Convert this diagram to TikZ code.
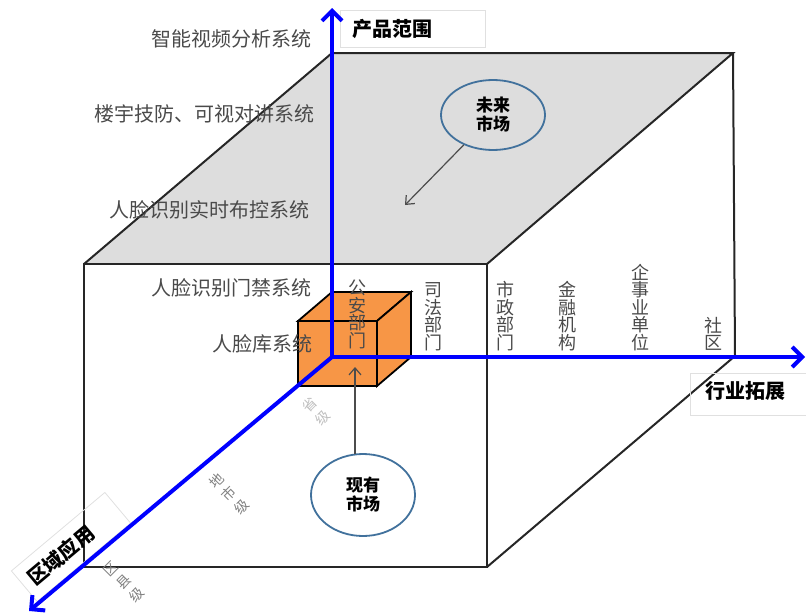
\documentclass[tikz,border=0pt]{standalone}
\usepackage{fontspec}
\setmainfont{Noto Sans CJK SC}
\usetikzlibrary{arrows.meta,shapes.geometric}
\definecolor{topgray}{HTML}{DDDDDD}
\definecolor{cubeorange}{HTML}{F79646}
\definecolor{ellblue}{HTML}{41719C}
\definecolor{txtgray}{HTML}{4A4A4A}
\definecolor{axisblue}{HTML}{0000FF}
\begin{document}
\begin{tikzpicture}[x=1pt,y=-1pt,
  cubeedge/.style={draw=black!85, line width=2pt, line join=miter},
  smallcube/.style={fill=cubeorange, draw=black, line width=1.8pt, line join=miter},
  axisline/.style={draw=axisblue, line width=4pt, -{Straight Barb[length=10pt,width=20pt]}},
  ptr/.style={draw=black!70, line width=1.2pt, -{Straight Barb[length=7pt,width=12pt]}},
  mkt/.style={ellipse, draw=ellblue, line width=1.8pt, minimum width=104pt, inner sep=0,
    align=center, font=\bfseries\fontsize{17}{19}\selectfont},
  vlab/.style={anchor=south, align=center, inner sep=0, text=txtgray,
    font=\fontsize{18}{17.5}\selectfont},
  hlab/.style={anchor=east, inner sep=0, text=txtgray, font=\fontsize{20}{22}\selectfont},
  rlab/.style={rotate=45, align=center, inner sep=0, font=\fontsize{14}{18}\selectfont},
  axtitle/.style={font=\bfseries\fontsize{20}{22}\selectfont, text=black},
  tbox/.style={draw=black!12, line width=0.8pt}
]
\useasboundingbox (0,0) rectangle (806,613);

% big cube corners
\coordinate (A) at (84,264);
\coordinate (B) at (487,264);
\coordinate (C) at (487,567);
\coordinate (D) at (84,567);
\coordinate (E) at (332,53);
\coordinate (F) at (733,53);
\coordinate (G) at (735,356);

\fill[topgray] (A) -- (E) -- (F) -- (B) -- cycle;
\draw[cubeedge] (A) -- (B) -- (C) -- (D) -- cycle;
\draw[cubeedge] (A) -- (E) -- (F) -- (B);
\draw[cubeedge] (F) -- (G) -- (C);

% small cube
\coordinate (O) at (332,357);
\coordinate (sA) at (298,321);
\coordinate (sB) at (377,321);
\coordinate (sC) at (377,386);
\coordinate (sD) at (298,386);
\coordinate (sE) at (332,292);
\coordinate (sF) at (411,292);
\coordinate (sG) at (411,357);
\draw[smallcube] (sA) -- (sE) -- (sF) -- (sB) -- cycle;
\draw[smallcube] (sB) -- (sF) -- (sG) -- (sC) -- cycle;
\draw[smallcube] (sA) -- (sB) -- (sC) -- (sD) -- cycle;

% title boxes
\draw[tbox] (340,10) rectangle (485,47);
\node[axtitle, anchor=west, inner sep=0] (tprod) at (352,29) {产品范围};
\draw[tbox] (690,373) rectangle (812,415);
\node[axtitle, inner sep=0] (tind) at (745,391) {行业拓展};
\node[axtitle, tbox, rotate=40, text width=106pt, align=left, inner xsep=8pt,
  minimum height=40pt] (treg) at (71,547) {区域应用};

% axes
\coordinate (ytip) at (332,8);
\coordinate (xtip) at (805,357);
\coordinate (ztip) at (29,611);
\draw[axisline] (O) -- (ytip);
\draw[axisline] (O) -- (xtip);
\draw[axisline] (O) -- (ztip);

% product labels
\node[hlab] (p1) at (312,39) {智能视频分析系统};
\node[hlab] (p2) at (315,114) {楼宇技防、可视对讲系统};
\node[hlab] (p3) at (310,210) {人脸识别实时布控系统};
\node[hlab] (p4) at (312,288) {人脸识别门禁系统};
\node[hlab] (p5) at (313,344) {人脸库系统};

% industry labels
\node[vlab] (i1) at (357,349) {公\\安\\部\\门};
\node[vlab] (i2) at (433,351) {司\\法\\部\\门};
\node[vlab] (i3) at (505,351) {市\\政\\部\\门};
\node[vlab] (i4) at (567,351) {金\\融\\机\\构};
\node[vlab] (i5) at (640,351) {企\\事\\业\\单\\位};
\node[vlab] (i6) at (713,351) {社\\区};

% region labels
\node[rlab, text=black!25] (r1) at (316,411) {省\\级};
\node[rlab, text=black!50] (r2) at (229,494) {地\\市\\级};
\node[rlab, text=black!50] (r3) at (124,582) {区\\县\\级};

% markets
\node[mkt, fill=none, minimum height=70pt] (fut) at (493,115) {未来\\市场};
\coordinate (futtip) at (405,205);
\draw[ptr] (fut) -- (futtip);

\node[mkt, fill=white, minimum height=82pt] (cur) at (363,495) {现有\\市场};
\coordinate (curtip) at (355,367);
\draw[ptr] (curtip |- cur.100) -- (curtip);
\end{tikzpicture}
\end{document}
